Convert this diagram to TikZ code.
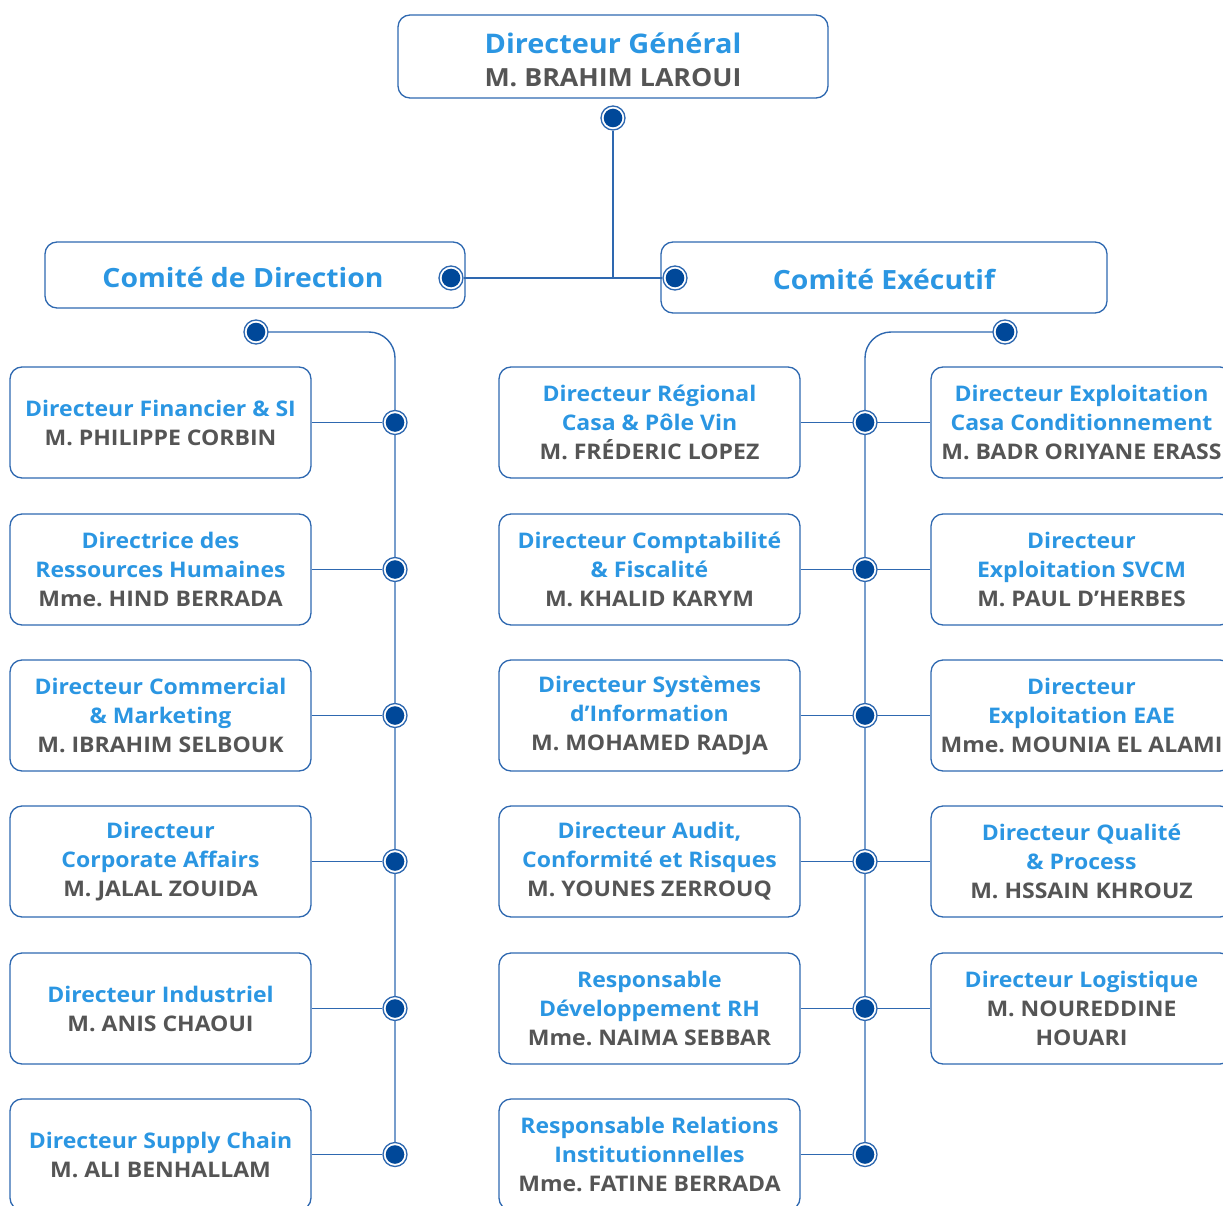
\documentclass[tikz,border=0pt]{standalone}
\usepackage{fontspec}
\setmainfont{Open Sans}[FakeStretch=1.07]
\usetikzlibrary{backgrounds}
\definecolor{tblue}{RGB}{43,150,226}
\definecolor{tgray}{RGB}{85,85,85}
\definecolor{lblue}{RGB}{46,104,176}
\definecolor{dblue}{RGB}{0,72,153}
\newcommand{\nm}[1]{\textcolor{tgray}{#1}}
\frenchspacing
\begin{document}
\begin{tikzpicture}[x=1pt,y=-1pt,
  box/.style={draw=lblue, line width=1.3pt, rounded corners=12pt, minimum width=301pt, minimum height=111pt, align=center, text=tblue, font=\bfseries\fontsize{21.5}{29}\selectfont, inner sep=0pt},
  bigbox/.style={draw=lblue, line width=1.3pt, rounded corners=12pt, inner sep=0pt},
  bigtext/.style={text=tblue, font=\bfseries\fontsize{26.5}{33}\selectfont, inner sep=0pt},
  conn/.style={draw=lblue, line width=1.4pt},
  dotn/.style={circle, draw=lblue, line width=1.3pt, fill=white, minimum size=24pt, inner sep=0pt,
    path picture={\fill[dblue] (path picture bounding box.center) circle (9.3pt);}}
]
\clip (0,0) rectangle (1223,1206);
% top
\node[draw=lblue, line width=1.3pt, rounded corners=12pt, minimum width=430pt, minimum height=83pt, inner sep=0pt] (dg) at (613,56.5) {};
\node[align=center, text=tblue, inner sep=0pt, font=\bfseries\fontsize{25}{33}\selectfont] (dgt) at (613,59.5) {{\fontsize{27}{33}\selectfont Directeur Général}\\\nm{M. BRAHIM LAROUI}};
\node[dotn] (dgd) at (613,118) {};
\coordinate (jn) at (613,278);
% comites
\node[bigbox, minimum width=420pt, minimum height=66pt] (cd) at (255,275) {};
\node[bigtext] (cdt) at (243,277) {Comité de Direction};
\node[dotn] (cdd) at (451,278) {};
\node[bigbox, minimum width=446pt, minimum height=71pt] (ce) at (884,277.5) {};
\node[bigtext] (cet) at (884,279) {Comité Exécutif};
\node[dotn] (ced) at (675,278) {};
\node[dotn] (ltop) at (256,332) {};
\node[dotn] (rtop) at (1005,332) {};
% left column
\node[box] (L1) at (160.5,422.5) {Directeur Financier \& SI\\\nm{M. PHILIPPE CORBIN}};
\node[box] (L2) at (160.5,569.5) {Directrice des\\Ressources Humaines\\\nm{Mme. HIND BERRADA}};
\node[box] (L3) at (160.5,715.5) {Directeur Commercial\\\& Marketing\\\nm{M. IBRAHIM SELBOUK}};
\node[box] (L4) at (160.5,861.5) {Directeur\\Corporate Affairs\\\nm{M. JALAL ZOUIDA}};
\node[box] (L5) at (160.5,1008.5) {Directeur Industriel\\\nm{M. ANIS CHAOUI}};
\node[box] (L6) at (160.5,1154.5) {Directeur Supply Chain\\\nm{M. ALI BENHALLAM}};
% middle column
\node[box] (M1) at (649.5,422.5) {Directeur Régional\\Casa \& Pôle Vin\\\nm{M. FRÉDERIC LOPEZ}};
\node[box] (M2) at (649.5,569.5) {Directeur Comptabilité\\\& Fiscalité\\\nm{M. KHALID KARYM}};
\node[box] (M3) at (649.5,715.5) {Directeur Systèmes\\d’Information\\\nm{M. MOHAMED RADJA}};
\node[box] (M4) at (649.5,861.5) {Directeur Audit,\\Conformité et Risques\\\nm{M. YOUNES ZERROUQ}};
\node[box] (M5) at (649.5,1008.5) {Responsable\\Développement RH\\\nm{Mme. NAIMA SEBBAR}};
\node[box] (M6) at (649.5,1154.5) {Responsable Relations\\Institutionnelles\\\nm{Mme. FATINE BERRADA}};
% right column
\node[box] (R1) at (1081.5,422.5) {Directeur Exploitation\\Casa Conditionnement\\\nm{M. BADR ORIYANE ERASS}};
\node[box] (R2) at (1081.5,569.5) {Directeur\\Exploitation SVCM\\\nm{M. PAUL D’HERBES}};
\node[box] (R3) at (1081.5,715.5) {Directeur\\Exploitation EAE\\\nm{Mme. MOUNIA EL ALAMI}};
\node[box] (R4) at (1081.5,861.5) {Directeur Qualité\\\& Process\\\nm{M. HSSAIN KHROUZ}};
\node[box] (R5) at (1081.5,1008.5) {Directeur Logistique\\\nm{M. NOUREDDINE}\\\nm{HOUARI}};
% dots
\foreach \i/\y in {1/422.5,2/569.5,3/715.5,4/861.5,5/1008.5,6/1154.5}{
  \node[dotn] (LD\i) at (395,\y) {};
  \node[dotn] (RD\i) at (865,\y) {};
}
\begin{scope}[on background layer]
  \draw[conn] (dgd) -- (jn);
  \draw[conn] (cdd) -- (ced);
  \draw[conn, rounded corners=26pt] (ltop.center) -- (ltop.center -| LD1) -- (LD6.center);
  \draw[conn, rounded corners=26pt] (rtop.center) -- (rtop.center -| RD1) -- (RD6.center);
  \foreach \i in {1,...,6}{
    \draw[conn] (L\i.east) -- (LD\i);
  }
  \foreach \i in {1,...,5}{
    \draw[conn] (M\i.east) -- (R\i.west);
  }
  \draw[conn] (M6.east) -- (RD6);
\end{scope}
\end{tikzpicture}
\end{document}
